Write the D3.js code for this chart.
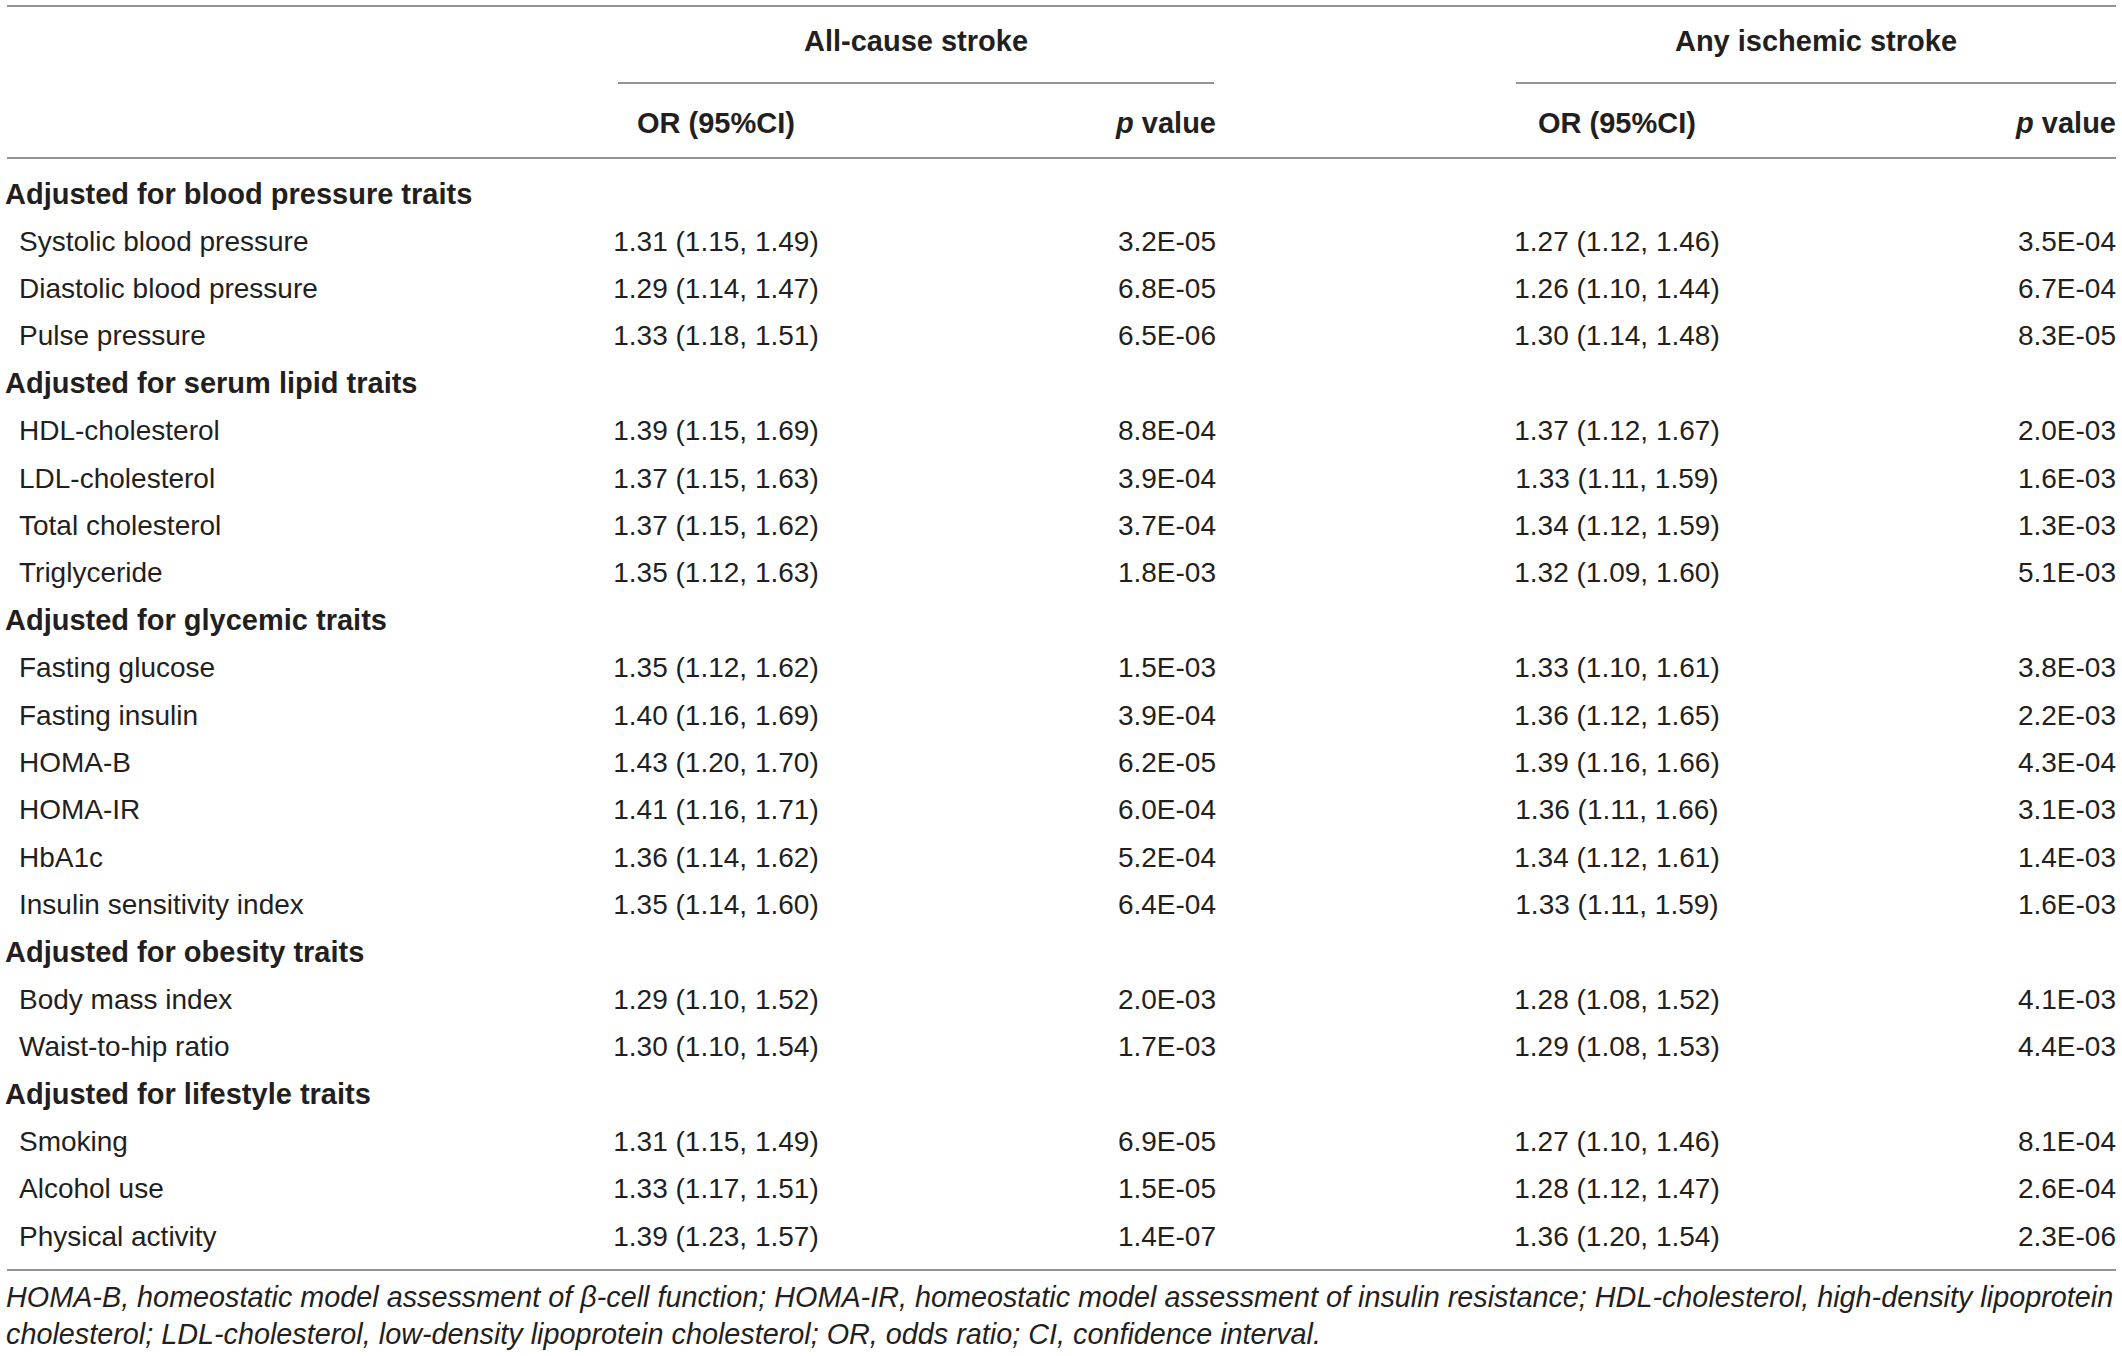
<!DOCTYPE html>
<html>
<head>
<meta charset="utf-8">
<title>Stroke OR table</title>
<script src="https://cdn.jsdelivr.net/npm/d3@7"></script>
<style>
  body { margin: 0; background: #fff; }
  svg text { font-family: "Liberation Sans", Arial, Helvetica, sans-serif; fill: #231f20; }
</style>
</head>
<body>
<div id="chart"></div>
<script>
// groups of adjustment traits, and the rows inside each group
const groups = [
  "Adjusted for blood pressure traits",
  "Adjusted for serum lipid traits",
  "Adjusted for glycemic traits",
  "Adjusted for obesity traits",
  "Adjusted for lifestyle traits"
];
const traits = [
  ["Systolic blood pressure", "Diastolic blood pressure", "Pulse pressure"],
  ["HDL-cholesterol", "LDL-cholesterol", "Total cholesterol", "Triglyceride"],
  ["Fasting glucose", "Fasting insulin", "HOMA-B", "HOMA-IR", "HbA1c", "Insulin sensitivity index"],
  ["Body mass index", "Waist-to-hip ratio"],
  ["Smoking", "Alcohol use", "Physical activity"]
];

// All-cause stroke
const orAll = [
  "1.31 (1.15, 1.49)", "1.29 (1.14, 1.47)", "1.33 (1.18, 1.51)",
  "1.39 (1.15, 1.69)", "1.37 (1.15, 1.63)", "1.37 (1.15, 1.62)", "1.35 (1.12, 1.63)",
  "1.35 (1.12, 1.62)", "1.40 (1.16, 1.69)", "1.43 (1.20, 1.70)", "1.41 (1.16, 1.71)", "1.36 (1.14, 1.62)", "1.35 (1.14, 1.60)",
  "1.29 (1.10, 1.52)", "1.30 (1.10, 1.54)",
  "1.31 (1.15, 1.49)", "1.33 (1.17, 1.51)", "1.39 (1.23, 1.57)"
];
const pAll = [
  "3.2E-05", "6.8E-05", "6.5E-06",
  "8.8E-04", "3.9E-04", "3.7E-04", "1.8E-03",
  "1.5E-03", "3.9E-04", "6.2E-05", "6.0E-04", "5.2E-04", "6.4E-04",
  "2.0E-03", "1.7E-03",
  "6.9E-05", "1.5E-05", "1.4E-07"
];

// Any ischemic stroke
const orIsch = [
  "1.27 (1.12, 1.46)", "1.26 (1.10, 1.44)", "1.30 (1.14, 1.48)",
  "1.37 (1.12, 1.67)", "1.33 (1.11, 1.59)", "1.34 (1.12, 1.59)", "1.32 (1.09, 1.60)",
  "1.33 (1.10, 1.61)", "1.36 (1.12, 1.65)", "1.39 (1.16, 1.66)", "1.36 (1.11, 1.66)", "1.34 (1.12, 1.61)", "1.33 (1.11, 1.59)",
  "1.28 (1.08, 1.52)", "1.29 (1.08, 1.53)",
  "1.27 (1.10, 1.46)", "1.28 (1.12, 1.47)", "1.36 (1.20, 1.54)"
];
const pIsch = [
  "3.5E-04", "6.7E-04", "8.3E-05",
  "2.0E-03", "1.6E-03", "1.3E-03", "5.1E-03",
  "3.8E-03", "2.2E-03", "4.3E-04", "3.1E-03", "1.4E-03", "1.6E-03",
  "4.1E-03", "4.4E-03",
  "8.1E-04", "2.6E-04", "2.3E-06"
];

const outcomes = ["All-cause stroke", "Any ischemic stroke"];
const footnote = [
  "HOMA-B, homeostatic model assessment of \u03b2-cell function; HOMA-IR, homeostatic model assessment of insulin resistance; HDL-cholesterol, high-density lipoprotein",
  "cholesterol; LDL-cholesterol, low-density lipoprotein cholesterol; OR, odds ratio; CI, confidence interval."
];

// flatten into table rows
const rows = [];
let k = 0;
groups.forEach((g, gi) => {
  rows.push({ type: "group", label: g });
  traits[gi].forEach(t => {
    rows.push({ type: "trait", label: t, or1: orAll[k], p1: pAll[k], or2: orIsch[k], p2: pIsch[k] });
    k++;
  });
});

const W = 2122, H = 1356;
const fs = 28, fsBold = 29;
const lineColor = "#707070";

const svg = d3.select("#chart").append("svg")
  .attr("width", W)
  .attr("height", H);

// row index -> vertical centre
const y = d3.scaleLinear().domain([0, rows.length - 1]).range([193.5, 1236]);

// column anchors
const left = 7, right = 2116;
const blocks = [
  { x0: 618, x1: 1214, orX: 716, pX: 1216 },
  { x0: 1516, x1: 2116, orX: 1617, pX: 2116 }
];

// horizontal rules
const rules = [
  { x1: left, x2: right, y: 6 },
  { x1: blocks[0].x0, x2: blocks[0].x1, y: 83 },
  { x1: blocks[1].x0, x2: blocks[1].x1, y: 83 },
  { x1: left, x2: right, y: 158 },
  { x1: left, x2: right, y: 1270 }
];
svg.selectAll("line.rule")
  .data(rules)
  .join("line")
  .attr("class", "rule")
  .attr("x1", d => d.x1).attr("x2", d => d.x2)
  .attr("y1", d => d.y).attr("y2", d => d.y)
  .attr("stroke", lineColor)
  .attr("stroke-width", 1.6);

// outcome headers
svg.selectAll("text.outcome")
  .data(outcomes)
  .join("text")
  .attr("class", "outcome")
  .attr("x", (d, i) => (blocks[i].x0 + blocks[i].x1) / 2)
  .attr("y", 41)
  .attr("dy", "0.35em")
  .attr("text-anchor", "middle")
  .style("font-size", fsBold + "px")
  .style("font-weight", "bold")
  .text(d => d);

// column headers
blocks.forEach(b => {
  svg.append("text")
    .attr("x", b.orX).attr("y", 123).attr("dy", "0.35em")
    .attr("text-anchor", "middle")
    .style("font-size", fsBold + "px").style("font-weight", "bold")
    .text("OR (95%CI)");
  const pv = svg.append("text")
    .attr("x", b.pX).attr("y", 123).attr("dy", "0.35em")
    .attr("text-anchor", "end")
    .style("font-size", fsBold + "px").style("font-weight", "bold");
  pv.append("tspan").style("font-style", "italic").text("p");
  pv.append("tspan").text(" value");
});

// body rows
const rowG = svg.selectAll("g.row")
  .data(rows)
  .join("g")
  .attr("class", "row")
  .attr("transform", (d, i) => `translate(0,${y(i)})`);

rowG.append("text")
  .attr("x", d => d.type === "group" ? 5 : 19)
  .attr("dy", "0.35em")
  .style("font-size", d => (d.type === "group" ? fsBold : fs) + "px")
  .style("font-weight", d => d.type === "group" ? "bold" : "normal")
  .text(d => d.label);

const cells = rowG.filter(d => d.type === "trait");
[["or1", blocks[0].orX, "middle"], ["p1", blocks[0].pX, "end"],
 ["or2", blocks[1].orX, "middle"], ["p2", blocks[1].pX, "end"]].forEach(([key, x, anchor]) => {
  cells.append("text")
    .attr("x", x)
    .attr("dy", "0.35em")
    .attr("text-anchor", anchor)
    .style("font-size", fs + "px")
    .text(d => d[key]);
});

// footnote, sized so the first line fills the table width
const notes = svg.selectAll("text.note")
  .data(footnote)
  .join("text")
  .attr("class", "note")
  .attr("x", 6)
  .attr("y", (d, i) => 1297 + i * 37)
  .attr("dy", "0.35em")
  .style("font-size", "26px")
  .style("font-style", "italic")
  .text(d => d);
const w0 = notes.node().getComputedTextLength();
notes.style("font-size", (26 * (right - 8) / w0) + "px");
</script>
</body>
</html>
